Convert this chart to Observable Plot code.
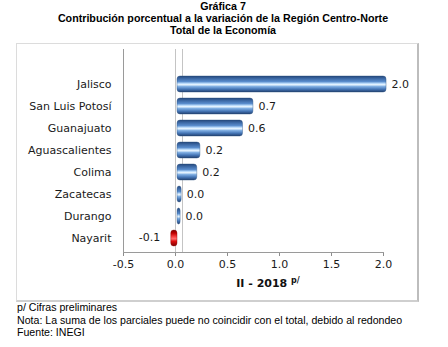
<!DOCTYPE html>
<html>
<head>
<meta charset="utf-8">
<script src="https://cdn.jsdelivr.net/npm/d3@7"></script>
<script src="https://cdn.jsdelivr.net/npm/@observablehq/plot@0.6"></script>
<style>
  html, body { margin: 0; padding: 0; background: #fff; }
  body { position: relative; width: 448px; height: 347px; overflow: hidden; }
  .title { position: absolute; left: 0; top: 0; width: 446px; text-align: center;
    font-family: "Liberation Sans", Arial, sans-serif; font-weight: bold; font-size: 10.7px; line-height: 12px; color: #000; }
  .box { position: absolute; left: 16px; top: 43px; width: 400px; height: 256px;
    border: 1px solid #dcdcdc; border-right: 2px solid #bdbdbd; border-bottom: 2px solid #cfcfcf; background: #fff; }
  #chart { position: absolute; left: 0; top: 0; }
  .xlabel { position: absolute; left: 0; top: 232px; width: 502px; text-align: center;
    font-family: "DejaVu Sans", Verdana, sans-serif; font-weight: bold; font-size: 11px; color: #111; }
  .xlabel sup { font-size: 8px; font-weight: bold; vertical-align: 4px; }
  .foot { position: absolute; left: 17px; top: 301px; font-family: "Liberation Sans", Arial, sans-serif;
    font-size: 10.6px; line-height: 12.5px; color: #000; }
  #chart g[aria-label="x-axis tick"] path { stroke: #8c8c8c; }
</style>
</head>
<body>
<div class="title">Gráfica 7<br>Contribución porcentual a la variación de la Región Centro-Norte<br>Total de la Economía</div>
<div class="box">
  <div id="chart"></div>
  <div class="xlabel">II - 2018 <sup>p/</sup></div>
</div>
<div class="foot">p/ Cifras preliminares<br>Nota: La suma de los parciales puede no coincidir con el total, debido al redondeo<br>Fuente: INEGI</div>
<script>
const categories = ["Jalisco", "San Luis Potosí", "Guanajuato", "Aguascalientes", "Colima", "Zacatecas", "Durango", "Nayarit"];
const values = [2.01, 0.73, 0.63, 0.22, 0.19, 0.04, 0.03, -0.06];
const xTicks = [-0.5, 0, 0.5, 1, 1.5, 2];

const data = categories.map((c, i) => ({state: c, value: values[i]}));
const pos = data.filter(d => d.value >= 0);
const neg = data.filter(d => d.value < 0);
const fmt = d => d.toFixed(1);

const svg = Plot.plot({
  width: 400,
  height: 256,
  marginLeft: 106,
  marginRight: 34,
  marginTop: 5,
  marginBottom: 48,
  style: {fontFamily: "DejaVu Sans, Verdana, sans-serif", fontSize: "11px", color: "#1a1a1a", background: "transparent", overflow: "visible"},
  x: {domain: [-0.5, 2], ticks: xTicks, tickFormat: fmt, tickSize: 4, tickPadding: 4, label: null},
  y: {domain: categories, range: [29, 205], paddingInner: 0.27, paddingOuter: 0.135, tickSize: 0, tickPadding: 12, label: null},
  marks: [
    Plot.ruleX([0], {stroke: "#c4c4c4", strokeWidth: 1}),
    Plot.ruleX([0], {dx: 7, stroke: "#c4c4c4", strokeWidth: 1}),
    Plot.barX(pos, {x: "value", y: "state", fill: "url(#gBlue)", rx: 3, dx: 2, stroke: "#2c5282", strokeWidth: 0.4}),
    Plot.barX(neg, {x: "value", y: "state", fill: "url(#gRed)", rx: 3, dx: 2, stroke: "#8a0000", strokeWidth: 0.4}),
    Plot.text(pos, {x: "value", y: "state", text: d => fmt(d.value), textAnchor: "start", dx: 7, fill: "#1a1a1a"}),
    Plot.text(neg, {x: "value", y: "state", text: d => fmt(d.value), textAnchor: "end", dx: -9, dy: -1, fill: "#1a1a1a"}),
    Plot.frame({anchor: "left", stroke: "#9a9a9a"}),
    Plot.frame({anchor: "bottom", stroke: "#9a9a9a"})
  ]
});

const defs = d3.select(svg).insert("defs", ":first-child");
const gb = defs.append("linearGradient").attr("id", "gBlue").attr("x1", 0).attr("y1", 0).attr("x2", 0).attr("y2", 1);
[[0, "#24477a"], [0.15, "#3a66a2"], [0.35, "#5a8dcd"], [0.47, "#bcdcfb"], [0.55, "#eef8ff"], [0.64, "#86b4e6"], [0.82, "#4677b8"], [1, "#213f6e"]]
  .forEach(([o, c]) => gb.append("stop").attr("offset", o).attr("stop-color", c));
const gr = defs.append("linearGradient").attr("id", "gRed").attr("x1", 0).attr("y1", 0).attr("x2", 0).attr("y2", 1);
[[0, "#7a0000"], [0.2, "#c00000"], [0.45, "#ff4a4a"], [0.55, "#ff7070"], [0.7, "#e01010"], [1, "#7a0000"]]
  .forEach(([o, c]) => gr.append("stop").attr("offset", o).attr("stop-color", c));

document.getElementById("chart").appendChild(svg);
</script>
</body>
</html>
